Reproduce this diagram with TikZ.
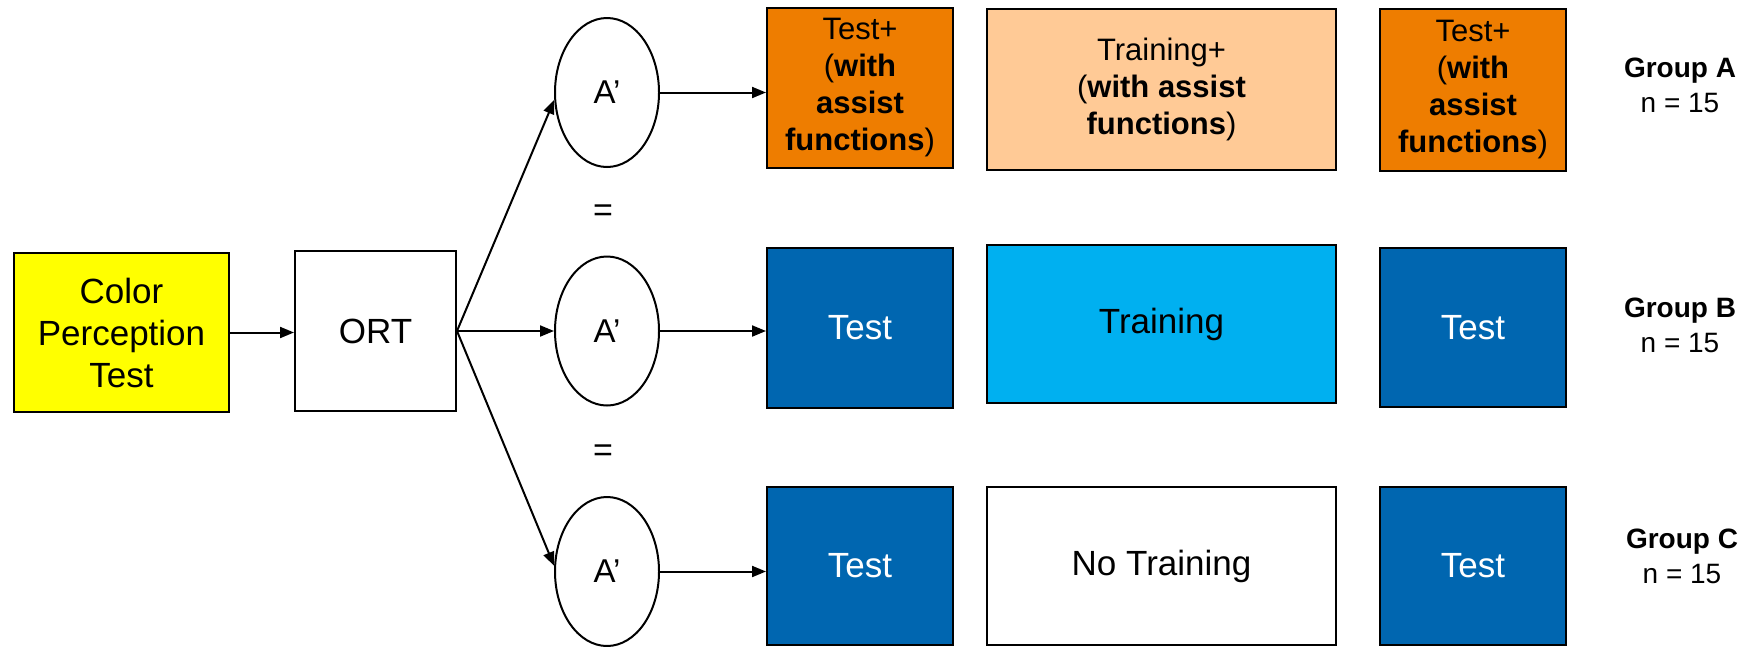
\documentclass[tikz,border=0pt]{standalone}
\usepackage{fontspec}
\setmainfont{Liberation Sans}
\usetikzlibrary{arrows.meta,shapes.geometric}
\definecolor{cyel}{RGB}{255,255,0}
\definecolor{corange}{RGB}{238,125,0}
\definecolor{clorange}{RGB}{255,202,150}
\definecolor{cdblue}{RGB}{0,102,176}
\definecolor{clblue}{RGB}{0,176,240}
\begin{document}
\begin{tikzpicture}[x=1pt,y=-1pt,
  box/.style={draw=black,line width=2pt,inner sep=0pt,align=center},
  big/.style={font=\fontsize{35}{42}\selectfont},
  mid/.style={font=\fontsize{31}{37}\selectfont},
  grp/.style={font=\fontsize{28}{35}\selectfont,align=center},
  oval/.style={draw=black,line width=2pt,ellipse,minimum width=104pt,minimum height=149pt,inner sep=0pt,font=\fontsize{33}{40}\selectfont},
  arr/.style={line width=2pt,-{Triangle[length=14pt,width=11pt]}},
  narrow/.style={box,minimum width=186pt},
  wide/.style={box,minimum width=349pt}
]
\useasboundingbox (0,0) rectangle (1749,646);

% left part
\node[box,big,fill=cyel,minimum width=215pt,minimum height=159pt] (CPT) at (121.5,332.5) {Color\\Perception\\Test};
\node[box,big,fill=white,minimum width=161pt,minimum height=160pt] (ORT) at (375.5,331) {ORT};

\node[oval] (E1) at (607,92.5) {A’};
\node[oval] (E2) at (607,331) {A’};
\node[oval] (E3) at (607,571.5) {A’};
\node[font=\fontsize{34}{40}\selectfont] (EQ1) at (603,213) {=};
\node[font=\fontsize{34}{40}\selectfont] (EQ2) at (603,453) {=};

% row A
\node[narrow,mid,fill=corange,minimum height=160pt] (T1) at (860,88) {Test+\\(\textbf{with}\\\textbf{assist}\\\textbf{functions})};
\node[wide,mid,fill=clorange,minimum height=161pt] (R1) at (1161.5,89.5) {Training+\\(\textbf{with assist}\\\textbf{functions})};
\node[narrow,mid,fill=corange,minimum height=162pt] (U1) at (1473,90) {Test+\\(\textbf{with}\\\textbf{assist}\\\textbf{functions})};

% row B
\node[narrow,big,fill=cdblue,text=white,minimum height=160pt] (T2) at (860,328) {Test};
\node[wide,big,fill=clblue,minimum height=158pt] (R2) at (1161.5,324) {Training};
\node[narrow,big,fill=cdblue,text=white,minimum height=159pt] (U2) at (1473,327.5) {Test};

% row C
\node[narrow,big,fill=cdblue,text=white,minimum height=158pt] (T3) at (860,566) {Test};
\node[wide,big,fill=white,minimum height=158pt] (R3) at (1161.5,566) {No Training};
\node[narrow,big,fill=cdblue,text=white,minimum height=158pt] (U3) at (1473,566) {Test};

% group labels
\node[grp] (GA) at (1680,85) {\textbf{Group A}\\n = 15};
\node[grp] (GB) at (1680,325.5) {\textbf{Group B}\\n = 15};
\node[grp] (GC) at (1682,556) {\textbf{Group C}\\n = 15};

% connectors
\draw[arr] (CPT.east) -- (CPT.east -| ORT.west);
\draw[arr] (ORT.east) -- (E1.188);
\draw[arr] (ORT.east) -- (E2.west);
\draw[arr] (ORT.east) -- (E3.174);
\draw[arr] (E1.east) -- (E1.east -| T1.west);
\draw[arr] (E2.east) -- (E2.east -| T2.west);
\draw[arr] (E3.east) -- (E3.east -| T3.west);
\end{tikzpicture}
\end{document}
